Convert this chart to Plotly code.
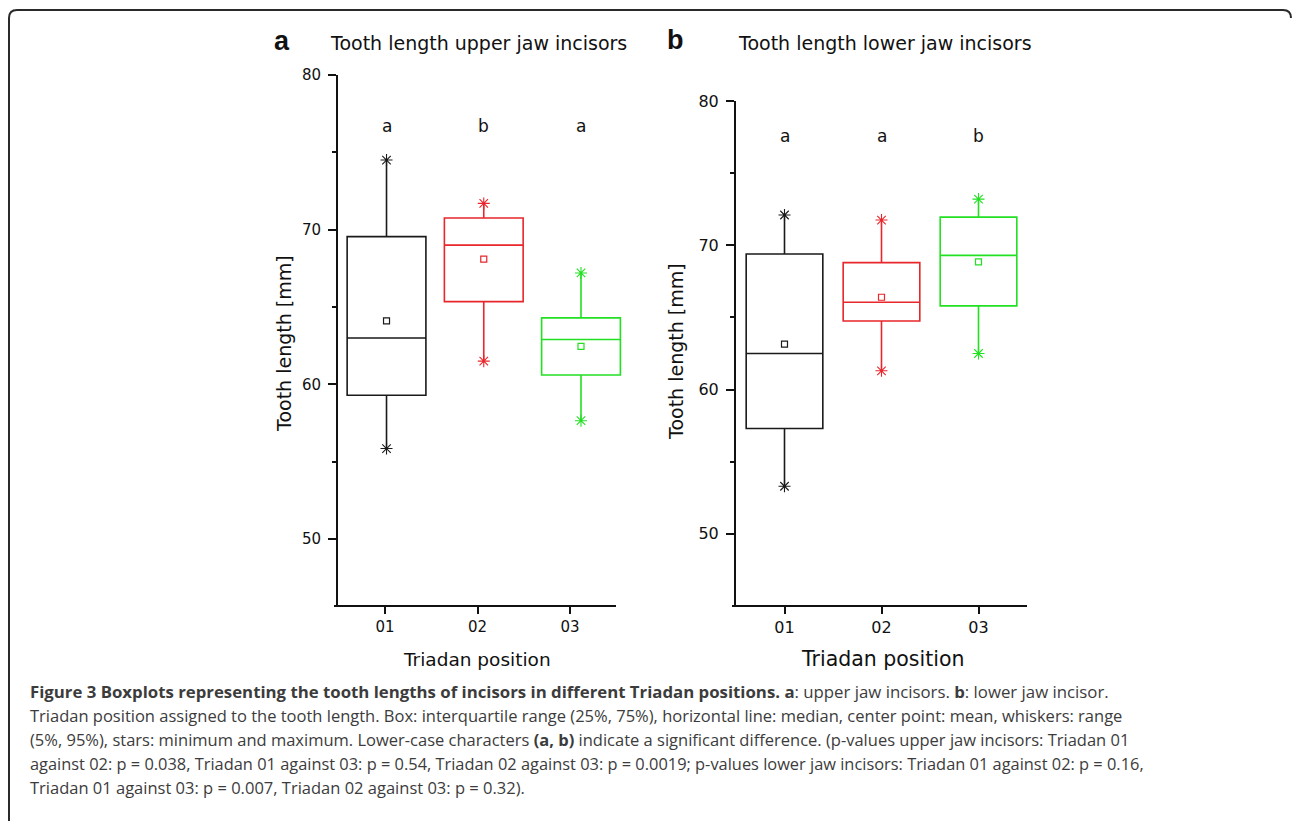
import plotly.graph_objects as go

W, H = 1292, 821

# ---------------- data ----------------
positions = ["01", "02", "03"]
colors = ["#1a1a1a", "#e8262b", "#22e022"]

# Panel a: upper jaw incisors
upper_q1 = [59.3, 65.35, 60.6]
upper_median = [63.0, 69.0, 62.9]
upper_q3 = [69.55, 70.75, 64.3]
upper_mean = [64.1, 68.1, 62.45]
upper_min = [55.85, 61.5, 57.65]
upper_max = [74.5, 71.7, 67.2]
upper_letters = ["a", "b", "a"]
upper_letter_y = 76.7

# Panel b: lower jaw incisors
lower_q1 = [57.3, 64.75, 65.8]
lower_median = [62.5, 66.05, 69.3]
lower_q3 = [69.4, 68.8, 71.95]
lower_mean = [63.15, 66.4, 68.85]
lower_min = [53.3, 61.3, 62.5]
lower_max = [72.1, 71.75, 73.2]
lower_letters = ["a", "a", "b"]
lower_letter_y = 77.6

y_ticks = [50, 60, 70, 80]
y_minor = [55, 65, 75]

# ---------------- helpers ----------------
def px(x):
    return x / W


def py(y):
    return 1 - y / H


FONT = "DejaVu Sans"
fig = go.Figure()

# empty trace so the tick axis of panel a registers its categories
fig.add_trace(go.Scatter(x=positions, y=[None] * len(positions), xaxis="x", yaxis="y",
                         mode="markers", showlegend=False, hoverinfo="skip"))


def add_panel(xref, ya, q1, med, q3, mean, mn, mx, width):
    for i, cat in enumerate(positions):
        c = colors[i]
        fig.add_trace(go.Box(
            x=[cat], q1=[q1[i]], median=[med[i]], q3=[q3[i]],
            lowerfence=[mn[i]], upperfence=[mx[i]],
            xaxis=xref, yaxis=ya, width=width, whiskerwidth=0,
            line=dict(color=c, width=1.6), fillcolor="rgba(0,0,0,0)",
            boxpoints=False, showlegend=False, hoverinfo="skip",
        ))
        fig.add_trace(go.Scatter(
            x=[cat], y=[mean[i]], mode="markers", xaxis=xref, yaxis=ya,
            marker=dict(symbol="square-open", size=6, color=c, line=dict(width=1.2, color=c)),
            showlegend=False, hoverinfo="skip",
        ))
        fig.add_trace(go.Scatter(
            x=[cat, cat], y=[mn[i], mx[i]], mode="markers", xaxis=xref, yaxis=ya,
            marker=dict(symbol="asterisk-open", size=10, color=c, line=dict(width=1.1, color=c)),
            showlegend=False, hoverinfo="skip",
        ))


add_panel("x3", "y", upper_q1, upper_median, upper_q3, upper_mean, upper_min, upper_max, 0.81)
add_panel("x2", "y2", lower_q1, lower_median, lower_q3, lower_mean, lower_min, lower_max, 0.79)

yax_common = dict(
    showline=True, linewidth=2, linecolor="#111", ticks="outside", ticklen=8,
    tickwidth=2, tickcolor="#111", showgrid=False, zeroline=False, automargin=False,
    tickvals=y_ticks, ticklabelstandoff=4,
    minor=dict(tickvals=y_minor, ticks="outside", ticklen=4, tickwidth=2, tickcolor="#111"),
)
xax_common = dict(
    type="category", categoryarray=positions, categoryorder="array", showline=False,
    ticks="outside", ticklen=7, tickwidth=2, tickcolor="#111", showgrid=False,
    zeroline=False, automargin=False,
)

dom_a = [px(338), px(622)]
fig.update_layout(
    width=W, height=H, margin=dict(l=0, r=0, t=0, b=0, autoexpand=False),
    paper_bgcolor="white", plot_bgcolor="rgba(0,0,0,0)",
    xaxis=dict(domain=dom_a, range=[-0.508, 2.562], anchor="y",
               tickfont=dict(family=FONT, size=15, color="#111"), **xax_common),
    xaxis3=dict(overlaying="x", domain=dom_a, range=[-0.499, 2.4216], visible=False,
                type="category", categoryarray=positions, categoryorder="array",
                anchor="y", automargin=False),
    yaxis=dict(domain=[py(606), py(75)], range=[45.67, 80], anchor="x",
               tickfont=dict(family=FONT, size=15, color="#111"), **yax_common),
    xaxis2=dict(domain=[px(736), px(1027)], range=[-0.5, 2.5], anchor="y2",
                tickfont=dict(family=FONT, size=16, color="#111"), **xax_common),
    yaxis2=dict(domain=[py(606), py(101)], range=[45, 80], anchor="x2",
                tickfont=dict(family=FONT, size=16, color="#111"), **yax_common),
)

shapes = []
# x baselines
shapes.append(dict(type="line", xref="paper", yref="paper", x0=px(334), x1=px(616),
                   y0=py(606), y1=py(606), line=dict(color="#111", width=2)))
shapes.append(dict(type="line", xref="paper", yref="paper", x0=px(732), x1=px(1027),
                   y0=py(606), y1=py(606), line=dict(color="#111", width=2)))
# outer frame with rounded corners
r = 8
path = (f"M {px(9)},{py(821)} L {px(9)},{py(10 + r)} "
        f"Q {px(9)},{py(10)} {px(9 + r)},{py(10)} "
        f"L {px(1292 - r - 1)},{py(10)} "
        f"Q {px(1292 - 1)},{py(10)} {px(1292 - 1)},{py(10 + r)}")
shapes.append(dict(type="path", xref="paper", yref="paper", path=path,
                   line=dict(color="#2a2a2a", width=2)))
fig.update_layout(shapes=shapes)

ann = []


def label(x, y, text, size, family=FONT, xanchor="center", angle=0, color="#111"):
    ann.append(dict(x=px(x), y=py(y), xref="paper", yref="paper", text=text,
                    xanchor=xanchor, yanchor="middle", textangle=angle, showarrow=False,
                    font=dict(family=family, size=size, color=color)))


# significance letters (x given as category index)
for i in range(len(positions)):
    ann.append(dict(x=i, y=upper_letter_y, xref="x3", yref="y", text=upper_letters[i],
                    xanchor="center", yanchor="middle", showarrow=False,
                    font=dict(family=FONT, size=17, color="#111")))
    ann.append(dict(x=i, y=lower_letter_y, xref="x2", yref="y2", text=lower_letters[i],
                    xanchor="center", yanchor="middle", showarrow=False,
                    font=dict(family=FONT, size=17, color="#111")))

# panel letters and titles
label(282, 41, "<b>a</b>", 27, family="Liberation Sans")
label(328, 43, "Tooth length upper jaw incisors", 19, xanchor="left")
label(675, 40, "<b>b</b>", 27, family="Liberation Sans")
label(736, 43, "Tooth length lower jaw incisors", 19, xanchor="left")

# axis titles
label(284, 344, "Tooth length [mm]", 19, angle=-90)
label(676, 352, "Tooth length [mm]", 19, angle=-90)
label(477, 659, "Triadan position", 18.5)
label(882, 659, "Triadan position", 20.5)

# caption
B = "<b>"
EB = "</b>"
cap_lines = [
    f"{B}Figure 3 Boxplots representing the tooth lengths of incisors in different Triadan positions.{EB} "
    f"{B}a{EB}: upper jaw incisors. {B}b{EB}: lower jaw incisor.",
    "Triadan position assigned to the tooth length. Box: interquartile range (25%, 75%), horizontal line: "
    "median, center point: mean, whiskers: range",
    f"(5%, 95%), stars: minimum and maximum. Lower-case characters {B}(a, b){EB} indicate a significant "
    "difference. (p-values upper jaw incisors: Triadan 01",
    "against 02: p = 0.038, Triadan 01 against 03: p = 0.54, Triadan 02 against 03: p = 0.0019; p-values "
    "lower jaw incisors: Triadan 01 against 02: p = 0.16,",
    "Triadan 01 against 03: p = 0.007, Triadan 02 against 03: p = 0.32).",
]
cap_y = [691, 715, 739, 763, 787]
cap_size = [16.8, 16.5, 16.5, 16.4, 16.5]
for line, yy, sz in zip(cap_lines, cap_y, cap_size):
    label(28, yy, line, sz, family="Open Sans", xanchor="left", color="#3c3c3c")

fig.update_layout(annotations=ann)
fig.write_html("out.html", config={"displayModeBar": False},
               post_script="document.body.style.margin='0px';document.body.style.overflow='hidden';")
